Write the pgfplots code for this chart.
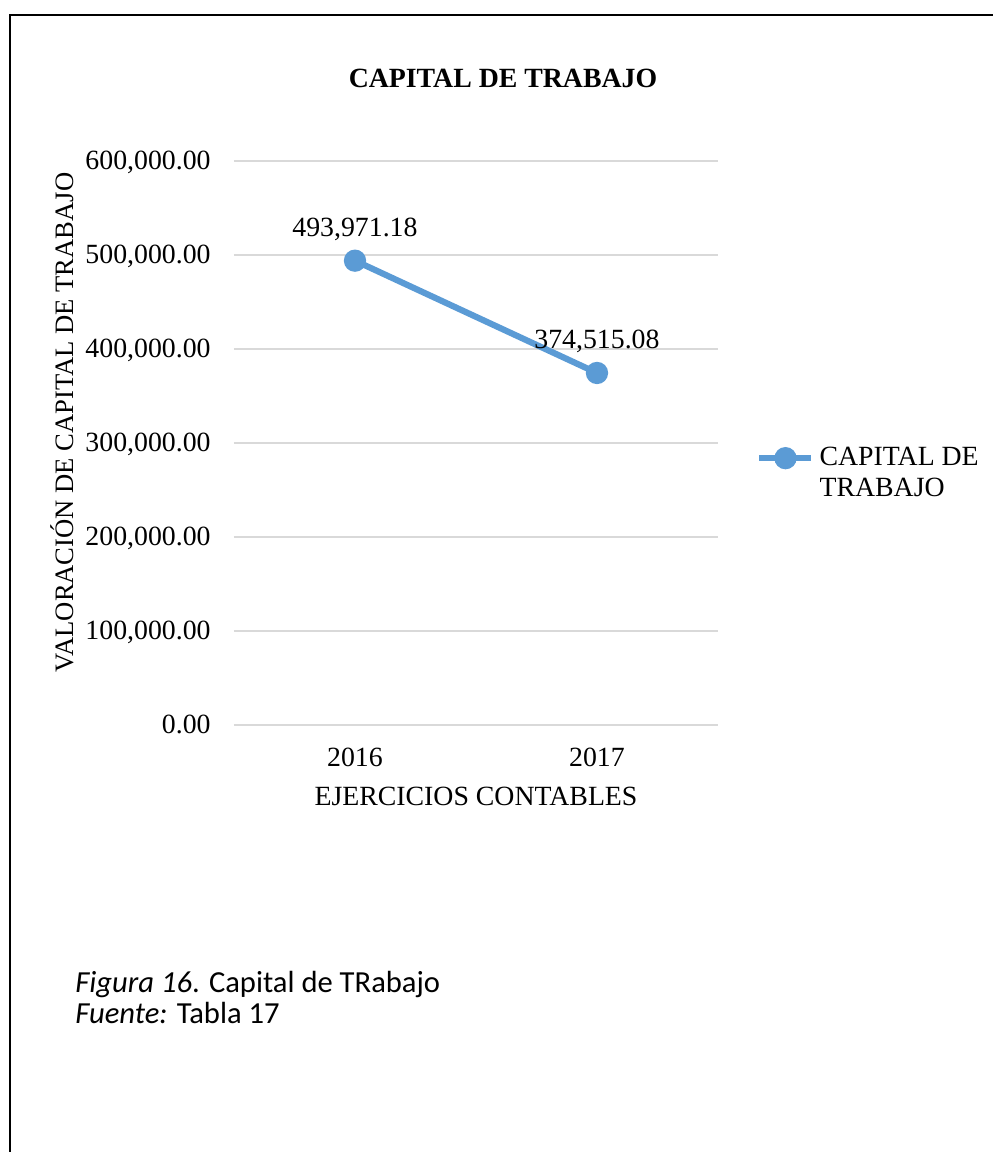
\documentclass[border=0pt]{standalone}
\usepackage{fontspec}
\setmainfont{Liberation Serif}
\newfontfamily\calibri{Carlito}
\usepackage{pgfplots}
\usepackage{pgfplotstable}
\pgfplotsset{compat=1.18}
\definecolor{excelblue}{HTML}{5B9BD5}
\definecolor{gridgray}{HTML}{D9D9D9}
\pgfplotstableread{
x y label
0 493971.18 493,971.18
1 374515.08 374,515.08
}\capdata

\begin{document}
\begin{tikzpicture}[font=\fontsize{13.9}{15.5}\selectfont]
\path[use as bounding box] (-117pt,-213.5pt) rectangle (379.5pt,362.5pt);
\draw[line width=1.2pt] (-112pt,-213.5pt) -- (-112pt,355pt) -- (379.5pt,355pt);
\begin{axis}[
  at={(0pt,0pt)}, anchor=south west, scale only axis,
  width=242pt, height=282pt,
  xmin=-0.5, xmax=1.5, ymin=0, ymax=600000,
  xtick={0,1}, xticklabels={2016,2017},
  ytick distance=100000, scaled y ticks=false,
  /pgf/number format/assume math mode=true,
  yticklabel={\pgfmathprintnumber[fixed,fixed zerofill,precision=2,1000 sep={,}]{\tick}},
  major tick length=0pt, tick style={draw=none},
  axis line style={draw=none},
  ymajorgrids, major grid style={gridgray, line width=0.6pt},
  yticklabel style={anchor=base east, inner sep=0pt, xshift=-11.5pt, yshift=-4.3pt},
  xticklabel style={anchor=base, inner sep=0pt, yshift=-20.5pt},
  xlabel={EJERCICIOS CONTABLES},
  every axis x label/.style={at={(rel axis cs:0.5,0)}, anchor=base, yshift=-40pt, inner sep=0pt},
  ylabel={VALORACIÓN DE CAPITAL DE TRABAJO},
  every axis y label/.style={at={(rel axis cs:-0.332,0.5363)}, anchor=base, rotate=90, inner sep=0pt, font=\fontsize{13.3}{15}\selectfont},
  title={\textbf{CAPITAL DE TRABAJO}},
  every axis title/.style={at={(rel axis cs:0.5558,1.1307)}, anchor=base, inner sep=0pt},
  clip=false,
  nodes near coords, point meta=explicit symbolic,
  every node near coord/.append style={anchor=base, yshift=12.2pt, inner sep=0pt, text=black},
  legend style={draw=none, fill=none, inner sep=0pt, column sep=2.5pt,
    at={(rel axis cs:1.0785,0.4960)}, anchor=north west,
    nodes={align=left, inner sep=0pt}},
  legend image code/.code={\path[draw=none, fill=none] (0pt,-14pt) rectangle (26pt,14pt);
    \draw[mark repeat=2, mark phase=2, #1] plot coordinates {(0pt,7.75pt) (13pt,7.75pt) (26pt,7.75pt)};},
]
\addplot[excelblue, line width=3.1pt, mark=*, mark size=4pt,
  mark options={solid, fill=excelblue, draw=none}]
  table[x=x, y=y, meta=label] {\capdata};
\legend{CAPITAL DE\\TRABAJO}
\end{axis}
\node[anchor=base west, inner sep=0pt, font=\fontsize{15.3}{16}\selectfont\calibri] at (-79.5pt,-133.5pt) {\textit{Figura 16}. Capital de TRabajo};
\node[anchor=base west, inner sep=0pt, font=\fontsize{15.3}{16}\selectfont\calibri] at (-79.5pt,-149pt) {\textit{Fuente:} Tabla 17};
\end{tikzpicture}
\end{document}
